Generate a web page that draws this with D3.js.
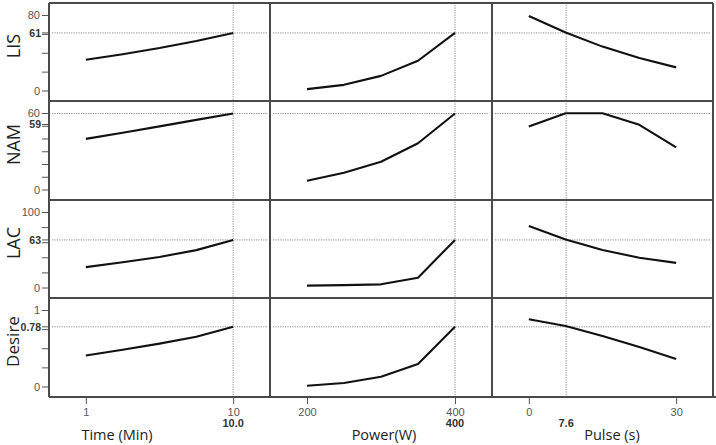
<!DOCTYPE html>
<html><head><meta charset="utf-8">
<script src="https://cdn.jsdelivr.net/npm/d3@7"></script>
<style>body{margin:0;background:#fff}svg{display:block}</style>
</head><body><svg id="c" width="716" height="445"></svg>
<script>
// ---- data ----
const factors = ["Time (Min)", "Power(W)", "Pulse (s)"];
const times = [1, 3.25, 5.5, 7.75, 10];
const powers = [200, 250, 300, 350, 400];
const pulses = [0, 7.5, 15, 22.5, 30];
const factorDomains = [[-1.25, 12.25], [150, 450], [-7.5, 37.5]];
const xTicks = [[1, 10], [200, 400], [0, 30]];
const optX = [10.0, 400, 7.6];
const optXLabels = ["10.0", "400", "7.6"];

const responses = ["LIS", "NAM", "LAC", "Desire"];
const yMax = [80, 60, 100, 1];
const yTicks = [[0, 20, 40, 60, 80], [0, 10, 20, 30, 40, 50, 60], [0, 20, 40, 60, 80, 100], [0, 0.25, 0.5, 0.75, 1]];
const optY = [61, 59.6, 63, 0.78];
const optYLabels = ["61", "59", "63", "0.78"];

const lisTime = [32.5, 38.5, 45, 52.5, 61];
const lisPower = [1.5, 6, 15.5, 31.5, 61];
const lisPulse = [79, 61.5, 46.5, 34.5, 24.5];
const namTime = [39.7, 44.5, 49.5, 54.6, 59.6];
const namPower = [6.8, 13.1, 21.8, 36.3, 59.6];
const namPulse = [49.4, 59.8, 59.8, 50.7, 33.1];
const lacTime = [27, 33.5, 40.5, 49.5, 63];
const lacPower = [2.5, 3.2, 4.2, 13, 63];
const lacPulse = [81.5, 63.5, 49.7, 39.4, 32.6];
const desTime = [0.405, 0.48, 0.56, 0.65, 0.78];
const desPower = [0.01, 0.045, 0.128, 0.295, 0.78];
const desPulse = [0.88, 0.79, 0.66, 0.515, 0.36];

const factorLevels = [times, powers, pulses];
const curves = [
  [lisTime, lisPower, lisPulse],
  [namTime, namPower, namPulse],
  [lacTime, lacPower, lacPulse],
  [desTime, desPower, desPulse]
];

// ---- layout ----
const colX = [49, 270, 492, 713];
const rowY = [3, 101, 200, 298, 397];
const svg = d3.select("#c");
const frameColor = "#4a4a4a";
const dotColor = "#8a8a8a";

const xs = factorDomains.map((d, j) => d3.scaleLinear().domain(d).range([colX[j], colX[j + 1]]));
const ys = yMax.map((m, i) => d3.scaleLinear().domain([0, m]).range([rowY[i + 1] - 10.5, rowY[i] + 12]));

// dotted reference lines
responses.forEach((r, i) => {
  factors.forEach((f, j) => {
    svg.append("line")
      .attr("x1", colX[j] + 3).attr("x2", colX[j + 1] - 3)
      .attr("y1", ys[i](optY[i])).attr("y2", ys[i](optY[i]))
      .attr("stroke", dotColor).attr("stroke-width", 1).attr("stroke-dasharray", "1.2,1.2");
  });
});
factors.forEach((f, j) => {
  svg.append("line")
    .attr("x1", xs[j](optX[j])).attr("x2", xs[j](optX[j]))
    .attr("y1", rowY[0] + 2).attr("y2", rowY[4] - 1)
    .attr("stroke", dotColor).attr("stroke-width", 1).attr("stroke-dasharray", "1.2,1.2");
});

// curves
const line = d3.line();
responses.forEach((r, i) => {
  factors.forEach((f, j) => {
    const pts = factorLevels[j].map((v, k) => [xs[j](v), ys[i](curves[i][j][k])]);
    svg.append("path").attr("d", line(pts))
      .attr("fill", "none").attr("stroke", "#111").attr("stroke-width", 2.1)
      .attr("stroke-linejoin", "round");
  });
});

// frame
for (let j = 0; j < colX.length; j++) {
  svg.append("line").attr("x1", colX[j]).attr("x2", colX[j])
    .attr("y1", rowY[0]).attr("y2", rowY[4])
    .attr("stroke", frameColor).attr("stroke-width", 2);
}
for (let i = 0; i < rowY.length; i++) {
  svg.append("line").attr("x1", colX[0]).attr("x2", colX[3] + (i === 4 ? 3 : 0))
    .attr("y1", rowY[i]).attr("y2", rowY[i])
    .attr("stroke", frameColor).attr("stroke-width", 2);
}

// y axes
responses.forEach((r, i) => {
  const top = yTicks[i][yTicks[i].length - 1];
  const ax = d3.axisLeft(ys[i]).tickValues(yTicks[i]).tickSize(6).tickPadding(2)
    .tickFormat(d => (d === 0 || d === top) ? d3.format("~g")(d) : "");
  const g = svg.append("g").attr("transform", `translate(${colX[0] - 1},0)`).call(ax);
  g.select(".domain").remove();
  g.selectAll("line").attr("stroke", "#555");
  g.selectAll("text").attr("fill", "#555").style("font-family", "Liberation Sans, Arial, sans-serif").style("font-size", "11px");
  // optimum label
  const offs = r === "NAM" ? 11 : 0;
  svg.append("line").attr("x1", colX[0] - 7).attr("x2", colX[0] - 1)
    .attr("y1", ys[i](optY[i]) + offs).attr("y2", ys[i](optY[i]) + offs).attr("stroke", "#555");
  svg.append("text").attr("x", colX[0] - 8).attr("y", ys[i](optY[i]) + offs)
    .attr("dy", "0.35em").attr("text-anchor", "end")
    .style("font-family", "Liberation Sans, Arial, sans-serif").style("font-size", "10.5px")
    .style("font-weight", "bold").attr("fill", "#333").text(optYLabels[i]);
  // response label
  const cy = (rowY[i] + rowY[i + 1]) / 2 - 6;
  svg.append("text").attr("transform", `translate(${r === "Desire" ? 18.5 : 20},${cy}) rotate(-90)`)
    .attr("text-anchor", "middle")
    .style("font-family", "Open Sans, sans-serif").style("font-size", r === "Desire" ? "17px" : "18px").attr("fill", "#222")
    .text(r);
});

// x axes
const titleX = [117, 384, 612];
factors.forEach((f, j) => {
  const ax = d3.axisBottom(xs[j]).tickValues(xTicks[j]).tickSize(6).tickPadding(4).tickFormat(d3.format("~g"));
  const g = svg.append("g").attr("transform", `translate(0,${rowY[4] + 1})`).call(ax);
  g.select(".domain").remove();
  g.selectAll("line").attr("stroke", "#555");
  g.selectAll("text").attr("fill", "#555").style("font-family", "Liberation Sans, Arial, sans-serif").style("font-size", "11px");
  svg.append("text").attr("x", xs[j](optX[j])).attr("y", 427).attr("text-anchor", "middle")
    .style("font-family", "Liberation Sans, Arial, sans-serif").style("font-size", "11px")
    .style("font-weight", "bold").attr("fill", "#333").text(optXLabels[j]);
  svg.append("text").attr("x", titleX[j]).attr("y", 440).attr("text-anchor", "middle")
    .style("font-family", "Open Sans, sans-serif").style("font-size", "14.5px").attr("fill", "#222")
    .text(f);
});
</script></body></html>
